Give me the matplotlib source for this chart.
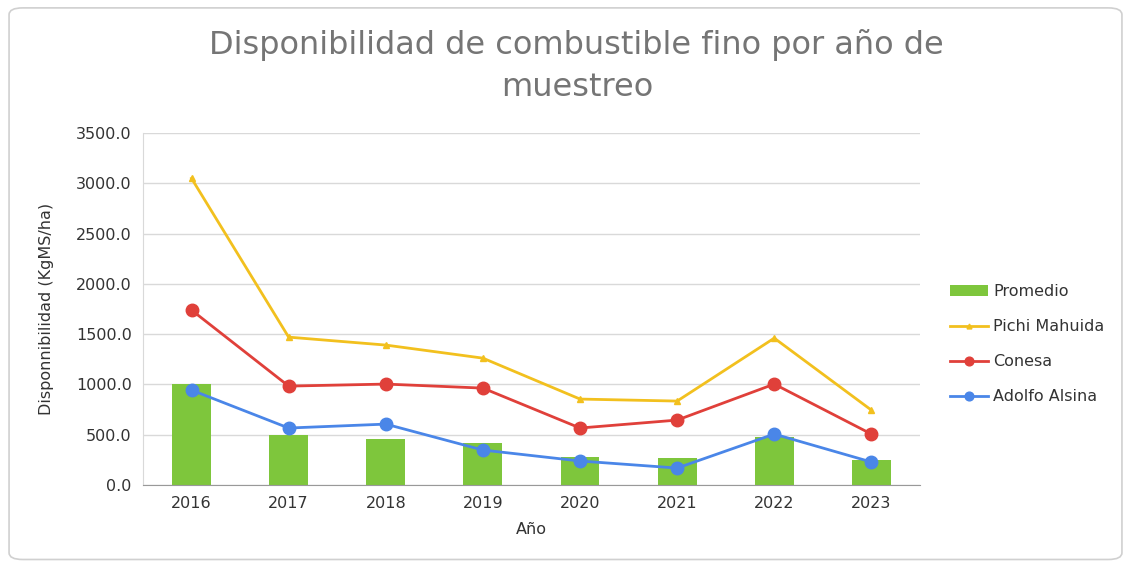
import matplotlib.pyplot as plt
from matplotlib.patches import FancyBboxPatch

years = ["2016", "2017", "2018", "2019", "2020", "2021", "2022", "2023"]
promedio = [1005, 497, 457, 418, 278, 268, 477, 249]
pichi_mahuida = [3050, 1471, 1392, 1262, 855, 835, 1461, 745]
conesa = [1740, 984, 1004, 964, 567, 646, 1004, 507]
adolfo_alsina = [944, 567, 606, 348, 239, 169, 507, 229]

fig = plt.figure(figsize=(11.31, 5.64), dpi=100)
border = FancyBboxPatch((0.008, 0.008), 0.984, 0.978,
                        boxstyle="round,pad=0,rounding_size=0.012",
                        transform=fig.transFigure, facecolor="none",
                        edgecolor="#d0d0d0", linewidth=1.2, zorder=-10)
fig.patches.append(border)

ax = fig.add_axes([0.1264, 0.140, 0.687, 0.624])
ax.patch.set_alpha(0)
x = list(range(len(years)))

bars = ax.bar(x, promedio, width=0.4, color="#7ec63c", label="Promedio", zorder=2)
l1, = ax.plot(x, pichi_mahuida, color="#f2c01e", marker="^", markersize=5, linewidth=2,
              label="Pichi Mahuida", zorder=3)
l2, = ax.plot(x, conesa, color="#e0403a", marker="o", markersize=9, linewidth=2,
              label="Conesa", zorder=4)
l3, = ax.plot(x, adolfo_alsina, color="#4a86e8", marker="o", markersize=9, linewidth=2,
              label="Adolfo Alsina", zorder=5)

ax.set_xlim(-0.5, len(years) - 0.5)
ax.set_ylim(0, 3500)
ax.set_yticks(range(0, 3501, 500))
ax.set_yticklabels([f"{v:.1f}" for v in range(0, 3501, 500)])
ax.set_xticks(x)
ax.set_xticklabels(years)
ax.tick_params(axis="both", length=0, labelsize=11.5, colors="#333333", pad=8)
ax.grid(axis="y", color="#d9d9d9", linewidth=1, zorder=0)
ax.set_axisbelow(True)
for side in ["top", "right"]:
    ax.spines[side].set_visible(False)
ax.spines["left"].set_color("#d9d9d9")
ax.spines["bottom"].set_color("#999999")

ax.set_xlabel("Año", fontsize=11.5, color="#333333", labelpad=8)
ax.set_ylabel("Disponnibilidad (KgMS/ha)", fontsize=11.5, color="#333333", labelpad=16)

fig.text(0.51, 0.883, "Disponibilidad de combustible fino por año de\nmuestreo",
         ha="center", va="center", fontsize=23, color="#757575", linespacing=1.45)

leg = ax.legend([bars, l1, l2, l3], ["Promedio", "Pichi Mahuida", "Conesa", "Adolfo Alsina"],
                loc="center left", bbox_to_anchor=(1.02, 0.40), frameon=False,
                fontsize=11.5, handlelength=2.4, labelspacing=1.25, handletextpad=0.3,
                labelcolor="#333333", markerscale=0.7)

plt.savefig("out.png", dpi=100)
